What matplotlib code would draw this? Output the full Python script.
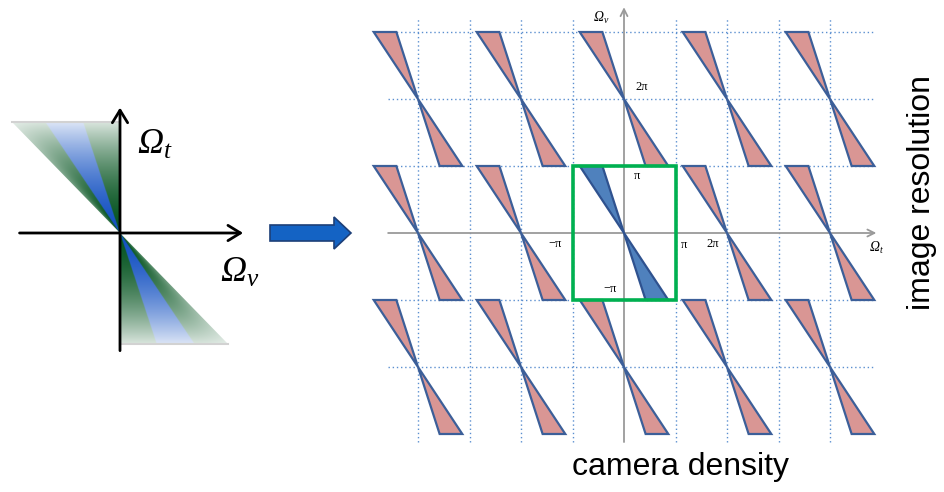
import numpy as np
import matplotlib.pyplot as plt
from matplotlib.patches import Polygon, Rectangle, FancyArrow
from matplotlib.colors import to_rgb

plt.rcParams['mathtext.fontset'] = 'custom'
plt.rcParams['mathtext.rm'] = 'Liberation Serif'
plt.rcParams['mathtext.it'] = 'Liberation Serif:italic'

W, H = 944, 492

# ---- replicated spectra (units of pi) ----
rep_u = [-4, -2, 0, 2, 4]          # spectral copies along Omega_t
rep_v = [-2, 0, 2]                 # spectral copies along Omega_v
wedge_inner, wedge_outer = 0.42, 0.86   # |u| at the top/bottom edge of each half
grid_u = [-4, -3, -2, -1, 1, 2, 3, 4]
grid_v = [-2, -1, 1, 2, 3]
box_u = (-1, 1)
box_v = (-1, 1)

# tick labels on the replicated panel: (text, u, v)
tick_labels = [('2π', 0.35, 2.18), ('π', 0.25, 0.85), ('−π', -0.27, -0.84),
               ('π', 1.17, -0.18), ('2π', 1.72, -0.17), ('−π', -1.34, -0.17)]

# ---- original spectrum wedge bands (fraction of the wedge width) ----
band_edges = [0.0, 0.34, 0.69, 1.0]
band_colors = ['#075522', '#1552c2', '#075522']

PINK, PINK_EDGE = '#d99694', '#3c5f99'
BLUE, BLUE_EDGE = '#4f81bd', '#2f528f'
GRID = '#5b8fd0'
AXIS_GRAY = '#9a9a9a'

fig = plt.figure(figsize=(W / 100, H / 100), dpi=100)
fig.patch.set_facecolor('white')


def px_axes(x0, x1, y0, y1):
    """axes placed by pixel box (y measured from the top)"""
    return fig.add_axes([x0 / W, 1 - y1 / H, (x1 - x0) / W, (y1 - y0) / H])


def omega(ax, x, y, sub, size):
    ax.text(x, y, 'Ω$_%s$' % sub, fontsize=size, family='Liberation Serif',
            style='italic', ha='left', va='center')


# ---------------- left: original spectrum ----------------
ox, oy, sx, sy = 120, 233, 108, 111
xl, yl = (-1.1, 1.35), (-1.3, 1.3)
axl = px_axes(ox + xl[0] * sx, ox + xl[1] * sx, oy - yl[1] * sy, oy - yl[0] * sy)
axl.set_xlim(*xl)
axl.set_ylim(*yl)
axl.axis('off')

N = 400
cols = np.array([to_rgb(c) for c in band_colors])


def wedge_image(us, vs):
    U, V = np.meshgrid(us, vs)
    r = np.clip(-U / np.where(V == 0, 1e-9, V), 0, 1)
    idx = np.clip(np.searchsorted(band_edges, r, side='right') - 1, 0, 2)
    rgb = cols[idx]
    fade = 0.85 * np.abs(V) ** 1.8
    edge = np.where(idx == 2, 0.3 * ((r - band_edges[2]) / (1 - band_edges[2])) ** 2, 0)
    f = 1 - (1 - fade) * (1 - edge)
    return rgb * (1 - f[..., None]) + f[..., None]


top = wedge_image(np.linspace(-1, 0, N), np.linspace(1, 0, N))
im = axl.imshow(top, extent=[-1, 0, 0, 1], aspect='auto', interpolation='bilinear', zorder=1)
im.set_clip_path(Polygon([(0, 0), (-1, 1), (0, 1)], transform=axl.transData))
bot = wedge_image(np.linspace(0, 1, N), np.linspace(0, -1, N))
im = axl.imshow(bot, extent=[0, 1, -1, 0], aspect='auto', interpolation='bilinear', zorder=1)
im.set_clip_path(Polygon([(0, 0), (1, -1), (0, -1)], transform=axl.transData))
axl.plot([-1, 0], [1, 1], color='#d2d2d2', lw=1.5, zorder=2)
axl.plot([0, 1], [-1, -1], color='#d2d2d2', lw=1.5, zorder=2)

arrow_kw = dict(arrowstyle='->,head_length=0.9,head_width=0.55', lw=2, color='black',
                shrinkA=0, shrinkB=0)
axl.annotate('', xy=(1.14, 0), xytext=(-0.93, 0), arrowprops=arrow_kw, zorder=3)
axl.annotate('', xy=(0, 1.13), xytext=(0, -1.06), arrowprops=arrow_kw, zorder=3)
omega(axl, 0.16, 0.79, 't', 26)
omega(axl, 0.93, -0.36, 'v', 26)

# ---------------- arrow between panels ----------------
fig.patches.append(FancyArrow(270 / W, 1 - 233 / H, 81 / W, 0, width=16 / H,
                              head_width=32 / H, head_length=17 / W,
                              length_includes_head=True, transform=fig.transFigure,
                              fc='#1463c4', ec='#1d3f78', lw=1.2))

# ---------------- right: sampled / replicated spectrum ----------------
cx, cy, su, sv = 624, 233, 51.5, 67
ur, vr = (-5.5, 5.5), (-3.5, 3.45)
axr = px_axes(cx + ur[0] * su, cx + ur[1] * su, cy - vr[1] * sv, cy - vr[0] * sv)
axr.set_xlim(*ur)
axr.set_ylim(*vr)
axr.axis('off')

for u in grid_u:
    axr.plot([u, u], [-3.12, 3.22], ls=(0, (1, 2)), color=GRID, lw=1, zorder=1)
for v in grid_v:
    axr.plot([-4.58, 4.87], [v, v], ls=(0, (1, 2)), color=GRID, lw=1, zorder=1)

ax_kw = dict(arrowstyle='->,head_length=0.5,head_width=0.25', lw=1.3, color=AXIS_GRAY,
             shrinkA=0, shrinkB=0)
axr.annotate('', xy=(4.9, 0), xytext=(-4.58, 0), arrowprops=ax_kw, zorder=2)
axr.annotate('', xy=(0, 3.37), xytext=(0, -3.12), arrowprops=ax_kw, zorder=2)

for cu in rep_u:
    for cv in rep_v:
        centre = (cu == 0 and cv == 0)
        fc, ec = (BLUE, BLUE_EDGE) if centre else (PINK, PINK_EDGE)
        upper = [(cu, cv), (cu - wedge_outer, cv + 1), (cu - wedge_inner, cv + 1)]
        lower = [(cu, cv), (cu + wedge_inner, cv - 1), (cu + wedge_outer, cv - 1)]
        for tri in (upper, lower):
            axr.add_patch(Polygon(tri, closed=True, fc=fc, ec=ec, lw=1.6,
                                  joinstyle='miter', zorder=3))

axr.add_patch(Rectangle((box_u[0], box_v[0]), box_u[1] - box_u[0], box_v[1] - box_v[0],
                        fill=False, ec='#00b050', lw=2.6, zorder=4))

for txt, u, v in tick_labels:
    axr.text(u, v, txt, fontsize=9, family='Liberation Serif', ha='center', va='center',
             zorder=5)
omega(axr, -0.6, 3.21, 'v', 10)
omega(axr, 4.75, -0.22, 't', 10)

fig.text(680 / W, 1 - 467 / H, 'camera density', fontsize=23, family='Liberation Sans',
         ha='center', va='center')
fig.text(922 / W, 1 - 192 / H, 'image resolution', fontsize=23, family='Liberation Sans',
         rotation=90, ha='center', va='center')

fig.savefig('out.png', dpi=100, facecolor='white')
